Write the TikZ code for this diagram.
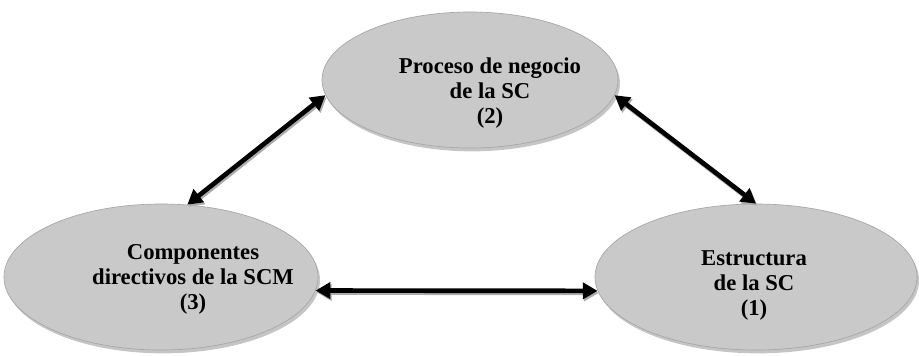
\documentclass[tikz,border=0pt]{standalone}
\usepackage{fontspec}
\setmainfont{Liberation Serif}
\usetikzlibrary{shapes.geometric,shadows,arrows.meta}

\tikzset{every picture/.style={line width=0.75pt}}
\tikzset{
  bubble/.style={ellipse, inner sep=0pt, fill=gray!42, draw=gray!70, line width=0.5pt,
    drop shadow={shadow xshift=1.5pt, shadow yshift=-2.5pt, fill=gray!90, opacity=0.5}},
  caption/.style={align=center, inner sep=0pt, font=\bfseries\fontsize{17}{18.75}\selectfont},
  link/.style={{Triangle[length=11pt,width=12pt]}-{Triangle[length=11pt,width=12pt]}, line width=3.5pt,
    preaction={draw, gray!65, line width=3.5pt, transform canvas={xshift=1pt,yshift=-1.5pt}}}
}

\begin{document}
\begin{tikzpicture}[x=0.75pt,y=0.75pt,yscale=-1,xscale=1]
\useasboundingbox (0,0) rectangle (919,355);

% Ellipses
\node [bubble, minimum width=222pt, minimum height=102pt] (proc) at (470,80) {};
\node [bubble, minimum width=235.5pt, minimum height=109.5pt] (comp) at (161,277) {};
\node [bubble, minimum width=241.5pt, minimum height=109.5pt] (estr) at (756,277) {};

% Text
\node [caption] (proctxt) at (490,93) {Proceso de negocio\\de la SC\\(2)};
\node [caption] (comptxt) at (193,279) {Componentes\\directivos de la SCM\\(3)};
\node [caption] (estrtxt) at (754,285) {Estructura\\de la SC\\(1)};

% Double arrows
\draw [link] (comp.70) -- (proc.186);
\draw [link] (proc.354) -- (estr.90);
\draw [link] (comp.355) -- (estr.185);

\end{tikzpicture}
\end{document}
